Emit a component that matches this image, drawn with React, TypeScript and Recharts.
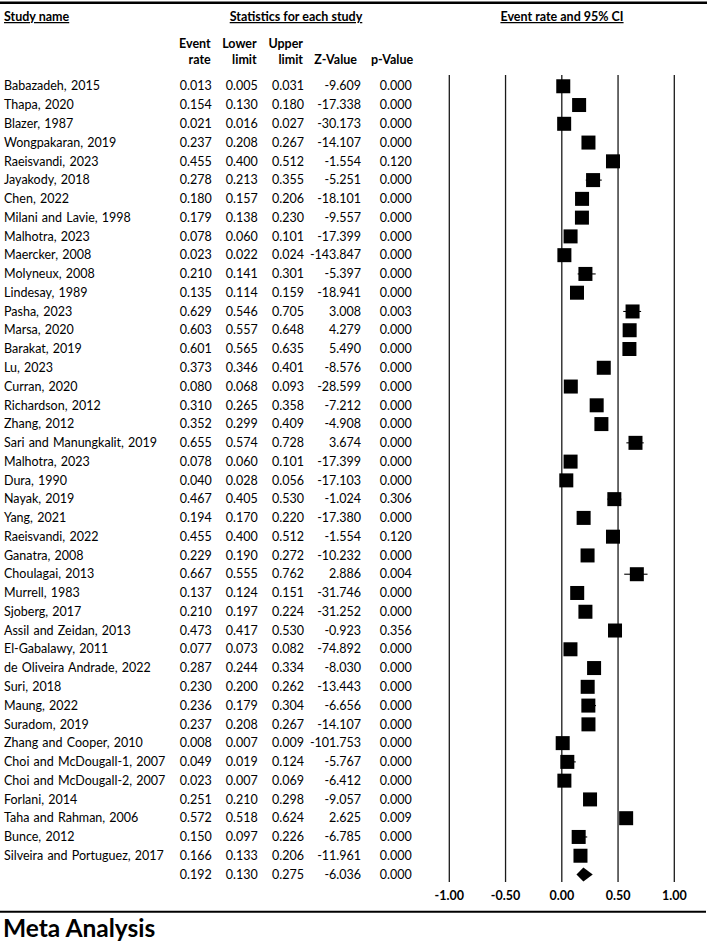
import React from 'react';
import { ScatterChart, Scatter, XAxis, YAxis, CartesianGrid, ErrorBar } from 'recharts';

const studyNames = [
  'Babazadeh, 2015', 'Thapa, 2020', 'Blazer, 1987', 'Wongpakaran, 2019', 'Raeisvandi, 2023',
  'Jayakody, 2018', 'Chen, 2022', 'Milani and Lavie, 1998', 'Malhotra, 2023', 'Maercker, 2008',
  'Molyneux, 2008', 'Lindesay, 1989', 'Pasha, 2023', 'Marsa, 2020', 'Barakat, 2019',
  'Lu, 2023', 'Curran, 2020', 'Richardson, 2012', 'Zhang, 2012', 'Sari and Manungkalit, 2019',
  'Malhotra, 2023', 'Dura, 1990', 'Nayak, 2019', 'Yang, 2021', 'Raeisvandi, 2022',
  'Ganatra, 2008', 'Choulagai, 2013', 'Murrell, 1983', 'Sjoberg, 2017', 'Assil and Zeidan, 2013',
  'El-Gabalawy, 2011', 'de Oliveira Andrade, 2022', 'Suri, 2018', 'Maung, 2022', 'Suradom, 2019',
  'Zhang and Cooper, 2010', 'Choi and McDougall-1, 2007', 'Choi and McDougall-2, 2007', 'Forlani, 2014',
  'Taha and Rahman, 2006', 'Bunce, 2012', 'Silveira and Portuguez, 2017',
];
const eventRates = [
  0.013, 0.154, 0.021, 0.237, 0.455, 0.278, 0.180, 0.179, 0.078, 0.023,
  0.210, 0.135, 0.629, 0.603, 0.601, 0.373, 0.080, 0.310, 0.352, 0.655,
  0.078, 0.040, 0.467, 0.194, 0.455, 0.229, 0.667, 0.137, 0.210, 0.473,
  0.077, 0.287, 0.230, 0.236, 0.237, 0.008, 0.049, 0.023, 0.251, 0.572,
  0.150, 0.166,
];
const lowerLimits = [
  0.005, 0.130, 0.016, 0.208, 0.400, 0.213, 0.157, 0.138, 0.060, 0.022,
  0.141, 0.114, 0.546, 0.557, 0.565, 0.346, 0.068, 0.265, 0.299, 0.574,
  0.060, 0.028, 0.405, 0.170, 0.400, 0.190, 0.555, 0.124, 0.197, 0.417,
  0.073, 0.244, 0.200, 0.179, 0.208, 0.007, 0.019, 0.007, 0.210, 0.518,
  0.097, 0.133,
];
const upperLimits = [
  0.031, 0.180, 0.027, 0.267, 0.512, 0.355, 0.206, 0.230, 0.101, 0.024,
  0.301, 0.159, 0.705, 0.648, 0.635, 0.401, 0.093, 0.358, 0.409, 0.728,
  0.101, 0.056, 0.530, 0.220, 0.512, 0.272, 0.762, 0.151, 0.224, 0.530,
  0.082, 0.334, 0.262, 0.304, 0.267, 0.009, 0.124, 0.069, 0.298, 0.624,
  0.226, 0.206,
];
const zValues = [
  -9.609, -17.338, -30.173, -14.107, -1.554, -5.251, -18.101, -9.557, -17.399, -143.847,
  -5.397, -18.941, 3.008, 4.279, 5.490, -8.576, -28.599, -7.212, -4.908, 3.674,
  -17.399, -17.103, -1.024, -17.380, -1.554, -10.232, 2.886, -31.746, -31.252, -0.923,
  -74.892, -8.030, -13.443, -6.656, -14.107, -101.753, -5.767, -6.412, -9.057, 2.625,
  -6.785, -11.961,
];
const pValues = [
  0.000, 0.000, 0.000, 0.000, 0.120, 0.000, 0.000, 0.000, 0.000, 0.000,
  0.000, 0.000, 0.003, 0.000, 0.000, 0.000, 0.000, 0.000, 0.000, 0.000,
  0.000, 0.000, 0.306, 0.000, 0.120, 0.000, 0.004, 0.000, 0.000, 0.356,
  0.000, 0.000, 0.000, 0.000, 0.000, 0.000, 0.000, 0.000, 0.000, 0.009,
  0.000, 0.000,
];
const summaryRate = 0.192;
const summaryLower = 0.130;
const summaryUpper = 0.275;
const summaryZ = -6.036;
const summaryP = 0.000;
const xTicks = [-1, -0.5, 0, 0.5, 1];

// layout
const W = 708;
const H = 944;
const PLOT_LEFT = 449.3;
const PLOT_RIGHT = 674.3;
const PLOT_TOP = 75;
const PLOT_BOTTOM = 882;
const X_AXIS_H = 30;
const X_DOMAIN: [number, number] = [-1, 1];
const Y_DOMAIN: [number, number] = [-0.6, 42.4];
const PX_PER_UNIT = (PLOT_RIGHT - PLOT_LEFT) / (X_DOMAIN[1] - X_DOMAIN[0]);
const FONT = 'Lato, "Open Sans", sans-serif';
const FS = 12.5;

const COL_RATE = 211.7;
const COL_LOW = 257.7;
const COL_UP = 304;
const COL_Z = 361;
const COL_P = 411.7;
const COL_NAME = 4;

const studies = studyNames.map((name, i) => ({
  name,
  x: eventRates[i],
  y: i,
  lo: lowerLimits[i],
  hi: upperLimits[i],
  err: [eventRates[i] - lowerLimits[i], upperLimits[i] - eventRates[i]],
  z: zValues[i],
  p: pValues[i],
}));
const summaryRow = {
  name: '',
  x: summaryRate,
  y: studies.length,
  lo: summaryLower,
  hi: summaryUpper,
  z: summaryZ,
  p: summaryP,
};
const rows = [...studies, summaryRow];

const SquareShape = (props: any) => {
  const { cx, cy } = props;
  if (cx == null || cy == null) return null;
  return <rect x={cx - 7} y={cy - 7} width={14} height={14} fill="#000" />;
};

const DiamondShape = (props: any) => {
  const { cx, cy, payload } = props;
  if (cx == null || cy == null) return null;
  const l = cx - (payload.x - payload.lo) * PX_PER_UNIT;
  const r = cx + (payload.hi - payload.x) * PX_PER_UNIT;
  return <polygon points={`${l},${cy} ${cx},${cy - 7} ${r},${cy} ${cx},${cy + 7}`} fill="#000" />;
};

// Table row text, vertically placed by the chart's y scale (cy)
const RowText = (props: any) => {
  const { cy, payload } = props;
  if (cy == null || !payload) return null;
  const row = payload;
  const by = cy + 4.2;
  const common = { fontFamily: FONT, fontSize: FS, fill: '#000' } as const;
  return (
    <g>
      {row.name ? (
        <text x={COL_NAME} y={by} {...common} wordSpacing={1} textAnchor="start">{row.name}</text>
      ) : null}
      <text x={COL_RATE} y={by} {...common} textAnchor="end">{row.x.toFixed(3)}</text>
      <text x={COL_LOW} y={by} {...common} textAnchor="end">{row.lo.toFixed(3)}</text>
      <text x={COL_UP} y={by} {...common} textAnchor="end">{row.hi.toFixed(3)}</text>
      <text x={COL_Z} y={by} {...common} textAnchor="end">{row.z.toFixed(3)}</text>
      <text x={COL_P} y={by} {...common} textAnchor="end">{row.p.toFixed(3)}</text>
    </g>
  );
};

const XTick = (props: any) => {
  const { x, y, payload } = props;
  return (
    <text x={x} y={y + 18} textAnchor="middle" fontFamily={FONT} fontSize={FS} fontWeight={700} fill="#000">
      {Number(payload.value).toFixed(2)}
    </text>
  );
};

const hb = { fontFamily: FONT, fontSize: FS, fontWeight: 700, fill: '#000' } as const;

export default function App() {
  return (
    <div style={{ position: 'absolute', left: 0, top: 0, width: W, height: H, background: '#fff' }}>
      <ScatterChart
        width={W}
        height={H}
        margin={{ top: PLOT_TOP, left: PLOT_LEFT, right: W - PLOT_RIGHT, bottom: H - PLOT_BOTTOM - X_AXIS_H }}
      >
        <CartesianGrid horizontal={false} vertical stroke="#1a1a1a" strokeWidth={1.3} />
        <XAxis
          type="number"
          dataKey="x"
          domain={X_DOMAIN}
          ticks={xTicks}
          interval={0}
          height={X_AXIS_H}
          axisLine={false}
          tickLine={false}
          tickSize={0}
          tickMargin={0}
          tick={<XTick />}
        />
        <YAxis type="number" dataKey="y" domain={Y_DOMAIN} reversed hide width={0} />
        <Scatter data={rows} shape={<RowText />} isAnimationActive={false} />
        <Scatter data={studies} shape={<SquareShape />} isAnimationActive={false}>
          <ErrorBar dataKey="err" direction="x" width={0} stroke="#000" strokeWidth={1.1} />
        </Scatter>
        <Scatter data={[summaryRow]} shape={<DiamondShape />} isAnimationActive={false} />
        <g>
          <line x1={0} x2={707} y1={2.7} y2={2.7} stroke="#000" strokeWidth={2.5} />
          <text x={4} y={21} {...hb} textDecoration="underline">Study name</text>
          <text x={296} y={21} {...hb} textAnchor="middle" textDecoration="underline">Statistics for each study</text>
          <text x={562} y={21} {...hb} textAnchor="middle" textDecoration="underline">Event rate and 95% CI</text>
          <text x={COL_RATE - 1} y={47.7} {...hb} textAnchor="end">Event</text>
          <text x={COL_RATE - 1} y={64} {...hb} textAnchor="end">rate</text>
          <text x={COL_LOW - 1} y={47.7} {...hb} textAnchor="end">Lower</text>
          <text x={COL_LOW - 1} y={64} {...hb} textAnchor="end">limit</text>
          <text x={COL_UP - 1} y={47.7} {...hb} textAnchor="end">Upper</text>
          <text x={COL_UP - 1} y={64} {...hb} textAnchor="end">limit</text>
          <text x={COL_Z - 4} y={64} {...hb} textAnchor="end">Z-Value</text>
          <text x={COL_P + 1.5} y={64} {...hb} textAnchor="end">p-Value</text>
          <line x1={0} x2={706} y1={911.7} y2={911.7} stroke="#000" strokeWidth={2} />
          <text x={3} y={936.7} fontFamily={FONT} fontSize={24.5} fontWeight={700} fill="#000">Meta Analysis</text>
        </g>
      </ScatterChart>
    </div>
  );
}
